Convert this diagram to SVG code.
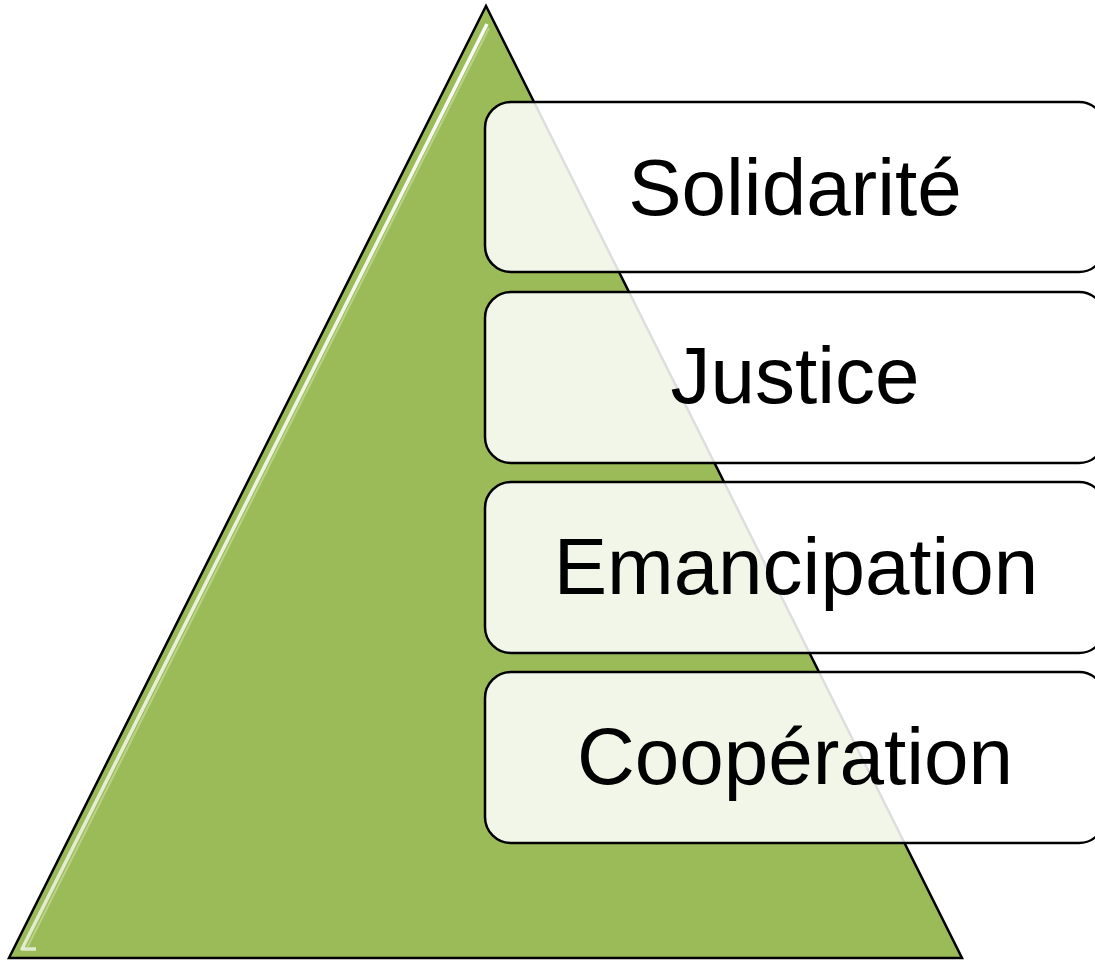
<svg xmlns="http://www.w3.org/2000/svg" width="1095" height="962" viewBox="0 0 1095 962">
<defs>
<style>
.box{fill:#ffffff;fill-opacity:0.87;stroke:#000;stroke-width:2.5}
.lbl{font-family:"Liberation Sans",Arial,sans-serif;font-size:80px;fill:#000;text-anchor:middle}
</style>
<linearGradient id="hl" x1="0" y1="0" x2="0" y2="1">
<stop offset="0" stop-color="#ffffff" stop-opacity="0.95"/>
<stop offset="1" stop-color="#ffffff" stop-opacity="0.7"/>
</linearGradient>
</defs>
<rect width="1095" height="962" fill="#ffffff"/>
<g id="pyramid">
<polygon points="486,6 9,958 962,958" fill="#9bbb59" stroke="#000" stroke-width="2.5" stroke-linejoin="miter"/>
<polyline points="487,24 22,949 36,949" fill="none" stroke="url(#hl)" stroke-width="3.5" stroke-linejoin="round"/>
<polyline points="489,28 27,948" fill="none" stroke="#c8dc9c" stroke-width="2" opacity="0.7"/>
</g>
<g id="node-solidarite">
<rect class="box" x="485" y="102" width="620" height="170" rx="26"/>
<text class="lbl" x="795" y="215">Solidarité</text>
</g>
<g id="node-justice">
<rect class="box" x="485" y="292" width="620" height="171" rx="26"/>
<text class="lbl" x="795" y="403">Justice</text>
</g>
<g id="node-emancipation">
<rect class="box" x="485" y="482" width="620" height="171" rx="26"/>
<text class="lbl" x="796" y="594">Emancipation</text>
</g>
<g id="node-cooperation">
<rect class="box" x="485" y="672" width="620" height="171" rx="26"/>
<text class="lbl" x="795" y="784">Coopération</text>
</g>
<g id="connectors"></g>
</svg>
